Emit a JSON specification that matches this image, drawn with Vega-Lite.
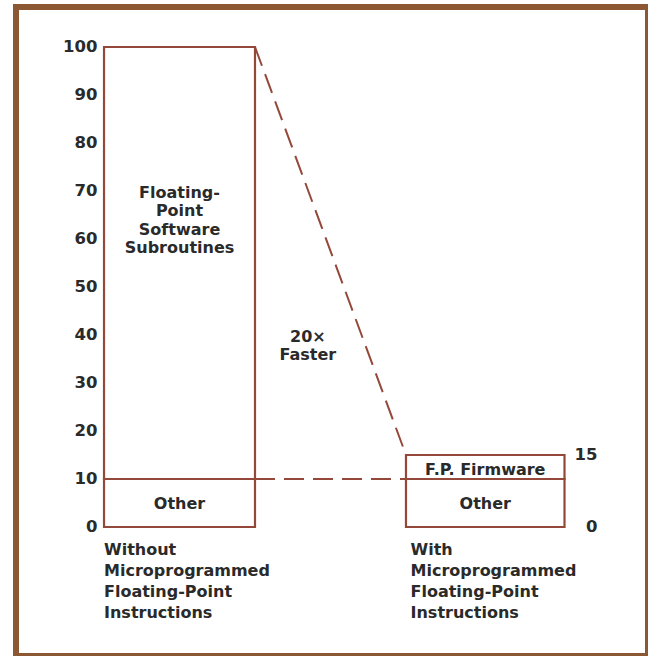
{
  "$schema": "https://vega.github.io/schema/vega-lite/v6.json",
  "width": 632,
  "height": 649,
  "autosize": "none",
  "padding": {"left": 16, "top": 7, "right": 0, "bottom": 0},
  "background": "white",
  "config": {
    "view": {"stroke": "#8c5733", "strokeWidth": 6},
    "text": {"font": "DejaVu Sans", "fontWeight": "bold", "fontSize": 16, "color": "#2a2a2a"}
  },
  "datasets": {
    "bars": [
      {"bar": "Without", "part": "Other", "x0": 0, "x1": 1, "y0": 0, "y1": 10},
      {"bar": "Without", "part": "Floating-Point Software Subroutines", "x0": 0, "x1": 1, "y0": 10, "y1": 100},
      {"bar": "With", "part": "Other", "x0": 2, "x1": 3.05, "y0": 0, "y1": 10},
      {"bar": "With", "part": "F.P. Firmware", "x0": 2, "x1": 3.05, "y0": 10, "y1": 15}
    ],
    "links": [
      {"seg": "total", "x": 1, "y": 100},
      {"seg": "total", "x": 2, "y": 15},
      {"seg": "other", "x": 1, "y": 10},
      {"seg": "other", "x": 2, "y": 10}
    ],
    "inner": [
      {"x": 0.5, "y": 69.6, "label": "Floating-|Point|Software|Subroutines"},
      {"x": 0.5, "y": 4.7, "label": "Other"},
      {"x": 2.525, "y": 4.7, "label": "Other"},
      {"x": 2.525, "y": 11.9, "label": "F.P. Firmware"},
      {"x": 1.35, "y": 39.6, "label": "20×|Faster"}
    ],
    "captions": [
      {"x": 0, "y": -4.8, "label": "Without|Microprogrammed|Floating-Point|Instructions"},
      {"x": 2.03, "y": -4.8, "label": "With|Microprogrammed|Floating-Point|Instructions"}
    ]
  },
  "resolve": {"axis": {"y": "independent"}},
  "layer": [
    {
      "data": {"name": "bars"},
      "mark": {"type": "rect", "fill": "white", "stroke": "#94483a", "strokeWidth": 2.2},
      "encoding": {
        "x": {"field": "x0", "type": "quantitative", "scale": {"domain": [-0.583, 3.603], "nice": false, "zero": false}, "axis": null},
        "x2": {"field": "x1"},
        "y": {"field": "y0", "type": "quantitative", "scale": {"domain": [-26.875, 108.333], "nice": false, "zero": false},
          "axis": {"orient": "left", "values": [0, 10, 20, 30, 40, 50, 60, 70, 80, 90, 100], "domain": false, "ticks": false, "tickSize": 0, "grid": false, "title": null, "offset": -81, "labelPadding": 0, "labelAlign": "right", "labelBaseline": "middle", "labelFont": "DejaVu Sans", "labelFontWeight": "bold", "labelFontSize": 16.5, "labelColor": "#2a2a2a"}},
        "y2": {"field": "y1"}
      }
    },
    {
      "data": {"name": "links"},
      "mark": {"type": "line", "stroke": "#94483a", "strokeWidth": 2, "strokeDash": [20, 9]},
      "encoding": {
        "x": {"field": "x", "type": "quantitative", "scale": {"domain": [-0.583, 3.603], "nice": false, "zero": false}, "axis": null},
        "y": {"field": "y", "type": "quantitative", "scale": {"domain": [-26.875, 108.333], "nice": false, "zero": false}, "axis": null},
        "detail": {"field": "seg"}
      }
    },
    {
      "data": {"name": "inner"},
      "mark": {"type": "text", "align": "center", "baseline": "middle", "lineHeight": 18.5, "lineBreak": "|"},
      "encoding": {
        "x": {"field": "x", "type": "quantitative", "scale": {"domain": [-0.583, 3.603], "nice": false, "zero": false}, "axis": null},
        "y": {"field": "y", "type": "quantitative", "scale": {"domain": [-26.875, 108.333], "nice": false, "zero": false},
          "axis": {"orient": "right", "values": [0, 15], "domain": false, "ticks": false, "tickSize": 0, "grid": false, "title": null, "offset": -51, "labelPadding": 0, "labelAlign": "right", "labelBaseline": "middle", "labelFont": "DejaVu Sans", "labelFontWeight": "bold", "labelFontSize": 16.5, "labelColor": "#2a2a2a"}},
        "text": {"field": "label"}
      }
    },
    {
      "data": {"name": "captions"},
      "mark": {"type": "text", "align": "left", "baseline": "middle", "lineHeight": 21, "lineBreak": "|"},
      "encoding": {
        "x": {"field": "x", "type": "quantitative", "scale": {"domain": [-0.583, 3.603], "nice": false, "zero": false}, "axis": null},
        "y": {"field": "y", "type": "quantitative", "scale": {"domain": [-26.875, 108.333], "nice": false, "zero": false}, "axis": null},
        "text": {"field": "label"}
      }
    }
  ]
}
